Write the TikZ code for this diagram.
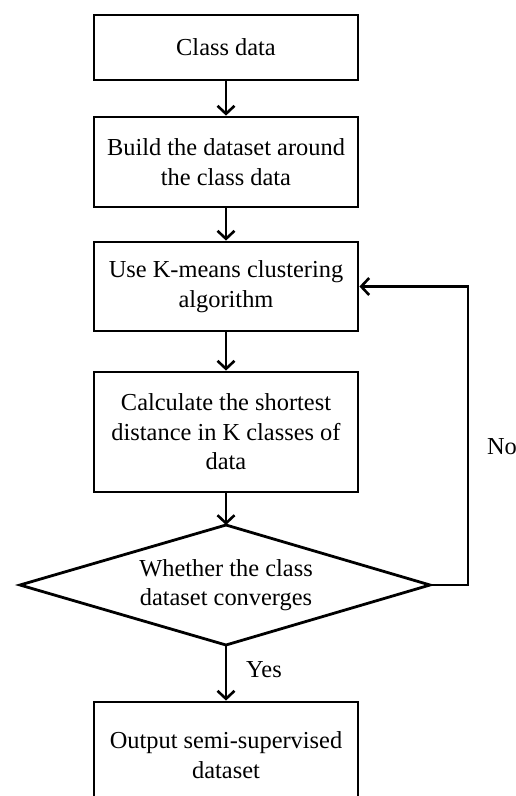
\documentclass[tikz,border=0pt]{standalone}
\usepackage{fontspec}
\setmainfont{Liberation Serif}
\usetikzlibrary{arrows.meta}
\begin{document}
\begin{tikzpicture}[x=1pt,y=1pt,
  every node/.style={font=\fontsize{24.4}{29.5}\selectfont},
  box/.style={draw,line width=2.8pt,minimum width=264pt,align=center,inner sep=0pt},
  arr/.style={line width=2.6pt,-{Straight Barb[length=8pt,width=17pt,line width=2.6pt]}}]
\useasboundingbox (0,0) rectangle (516,-796);
\node[box,minimum height=65pt] (b1) at (226,-47.5) {Class data};
\node[box,minimum height=90pt] (b2) at (226,-162) {Build the dataset around\\the class data};
\node[box,minimum height=89pt] (b3) at (226,-286.5) {Use K-means clustering\\algorithm};
\node[box,minimum height=120pt] (b4) at (226,-432) {Calculate the shortest\\distance in K classes of\\data};
\coordinate (dtop) at (226,-525);
\coordinate (dright) at (430,-585);
\coordinate (dbot) at (226,-645);
\coordinate (dleft) at (20,-585);
\draw[line width=2.8pt,line join=miter] (dtop) -- (dright) -- (dbot) -- (dleft) -- cycle;
\node[align=center] (d) at (226,-585) {Whether the class\\dataset converges};
\node[box,minimum height=106pt] (b5) at (226,-755) {Output semi-supervised\\dataset};
\coordinate (c1) at (468,-585);
\coordinate (c2) at (468,-286.5);
\draw[arr] (b1) -- (b2);
\draw[arr] (b2) -- (b3);
\draw[arr] (b3) -- (b4);
\draw[arr] (b4.south) -- (dtop);
\draw[arr] (dbot) -- (b5.north);
\draw[arr,line join=miter] (dright) -- (c1) -- (c2) -- (b3.east);
\node (no) at (502,-447) {No};
\node (yes) at (264,-670) {Yes};
\end{tikzpicture}
\end{document}
